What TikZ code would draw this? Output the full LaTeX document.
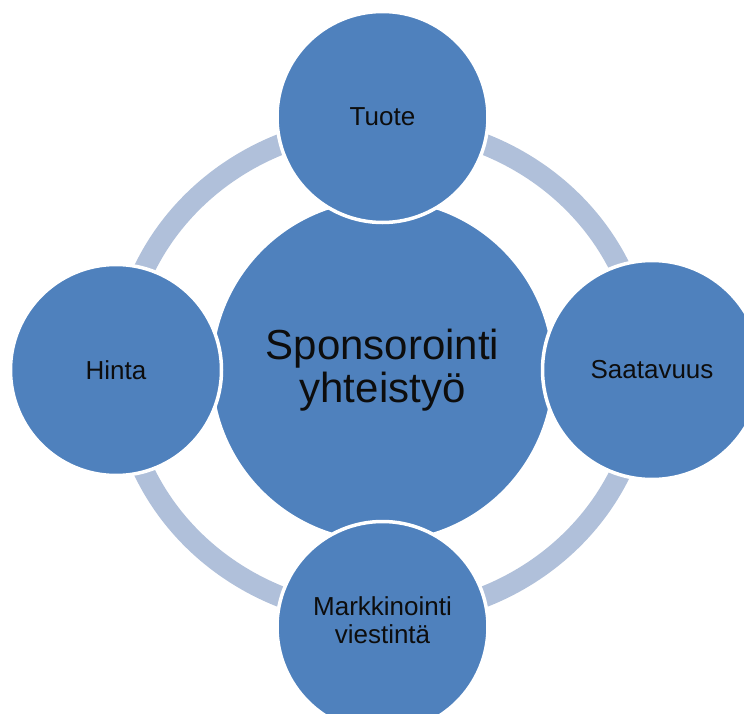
\documentclass[tikz,border=0pt]{standalone}
\usepackage{fontspec}
\setmainfont{Liberation Sans}
\definecolor{petalBlue}{HTML}{4F81BD}
\definecolor{ringBlue}{HTML}{B0C0DA}
\definecolor{labelText}{HTML}{0D0D0D}

\begin{document}
\begin{tikzpicture}[
  x=1pt, y=-1pt,
  every node/.style={text=labelText},
  hub/.style={circle, fill=petalBlue, draw=white, line width=3.5pt,
              minimum size=343pt, inner sep=0pt, align=center,
              font=\fontsize{42}{43}\selectfont},
  petal/.style={circle, fill=petalBlue, draw=white, line width=3.5pt,
                minimum size=211pt, inner sep=0pt, align=center,
                font=\fontsize{26}{28}\selectfont},
  ring/.style={draw=ringBlue, line width=21pt},
]
  \useasboundingbox (0,0) rectangle (744,714);
  \coordinate (mid) at (382.5,370.5);

  % light ring behind the circles
  \draw[ring] (mid) ellipse [x radius=261.5pt, y radius=245.5pt];

  \node[hub] at (mid) (hub) {Sponsorointi\\yhteistyö};

  \node[petal] at (382.5,117) (tuote) {Tuote};
  \node[petal] at (116,370) (hinta) {Hinta};
  \node[petal, minimum size=219pt] at (652,370) (saatavuus) {Saatavuus};
  \node[petal, text depth=14pt] at (382.5,627) (markkinointi) {Markkinointi\\viestintä};
\end{tikzpicture}
\end{document}
